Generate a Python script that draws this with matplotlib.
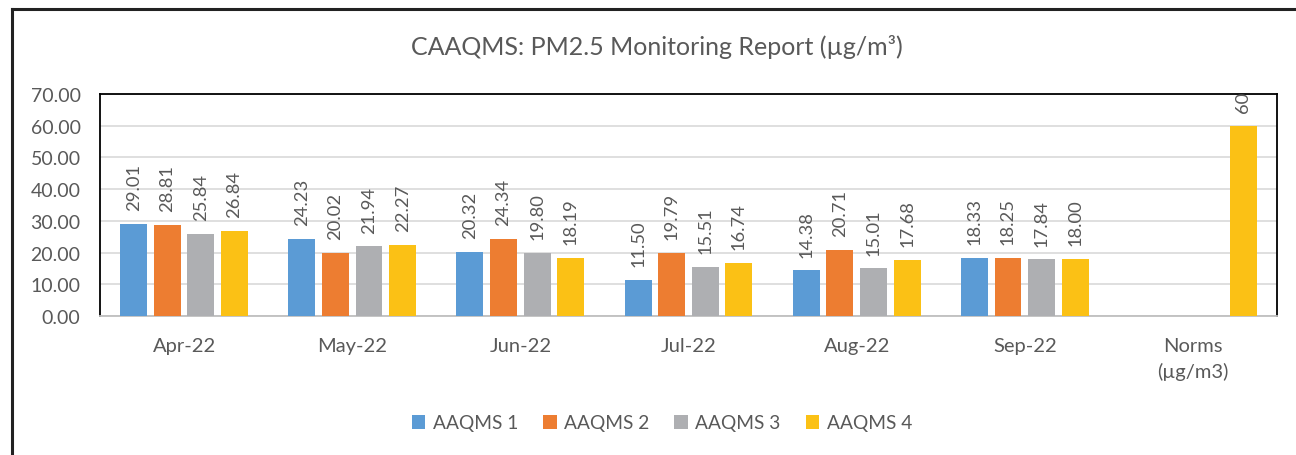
import numpy as np
import matplotlib
matplotlib.use("Agg")
import matplotlib.pyplot as plt
from matplotlib.lines import Line2D

plt.rcParams['font.family'] = ['Lato', 'DejaVu Sans']

# data
categories = ['Apr-22', 'May-22', 'Jun-22', 'Jul-22', 'Aug-22', 'Sep-22', 'Norms\n(µg/m3)']
aaqms1 = [29.01, 24.23, 20.32, 11.50, 14.38, 18.33, np.nan]
aaqms2 = [28.81, 20.02, 24.34, 19.79, 20.71, 18.25, np.nan]
aaqms3 = [25.84, 21.94, 19.80, 15.51, 15.01, 17.84, np.nan]
aaqms4 = [26.84, 22.27, 18.19, 16.74, 17.68, 18.00, 60]
series_names = ['AAQMS 1', 'AAQMS 2', 'AAQMS 3', 'AAQMS 4']
colors = ['#5B9BD5', '#ED7D31', '#AEAFB2', '#FBC115']

txt = '#595959'

fig = plt.figure(figsize=(12.96, 4.56), dpi=100)
ax = fig.add_axes([100/1296, 139/456, 1177/1296, 222/456])

x = np.arange(len(categories))
w = 0.16
offsets = [-0.3, -0.1, 0.1, 0.3]
all_series = [aaqms1, aaqms2, aaqms3, aaqms4]

for vals, off, c, name in zip(all_series, offsets, colors, series_names):
    ax.bar(x + off, vals, width=w, color=c, label=name, zorder=3)
    for xi, v in zip(x + off, vals):
        if np.isnan(v):
            continue
        lab = '60' if v == 60 else '%.2f' % v
        ax.annotate(lab, (xi, v), xytext=(0, 10), textcoords='offset points',
                    rotation=90, ha='center', va='bottom', fontsize=13.2, color=txt)

ax.set_xlim(-0.5, len(categories) - 0.5)
ax.set_ylim(0, 70)
ax.set_yticks(np.arange(0, 71, 10))
ax.set_yticklabels(['%.2f' % v for v in np.arange(0, 71, 10)])
ax.set_xticks(x)
ax.set_xticklabels(categories, linespacing=1.55)
ax.tick_params(axis='both', length=0, labelcolor=txt)
ax.tick_params(axis='x', pad=15, labelsize=14.5)
ax.tick_params(axis='y', pad=14, labelsize=14)
ax.grid(axis='y', color='#D9D9D9', linewidth=1.2, zorder=0)

for s in ['top', 'left', 'right']:
    ax.spines[s].set_color('black')
    ax.spines[s].set_linewidth(1.3)
ax.spines['bottom'].set_color('#BFBFBF')
ax.spines['bottom'].set_linewidth(1.3)

fig.text(657/1296, 1 - 47/456, 'CAAQMS: PM2.5 Monitoring Report (µg/m³)',
         ha='center', va='center', fontsize=18, color=txt)

fig.legend(loc='center', bbox_to_anchor=(662/1296, 1 - 424/456), ncol=4,
           frameon=False, fontsize=13.8, labelcolor=txt, handlelength=0.7,
           handleheight=0.7, handletextpad=0.4, columnspacing=1.3)

# outer chart border (top and left only visible)
fig.add_artist(Line2D([12/1296, 12/1296], [0, 1 - 10/456], color='#222222', linewidth=2.2))
fig.add_artist(Line2D([12/1296, 1], [1 - 10/456, 1 - 10/456], color='#222222', linewidth=2.2))

fig.savefig('out.png', dpi=100)
